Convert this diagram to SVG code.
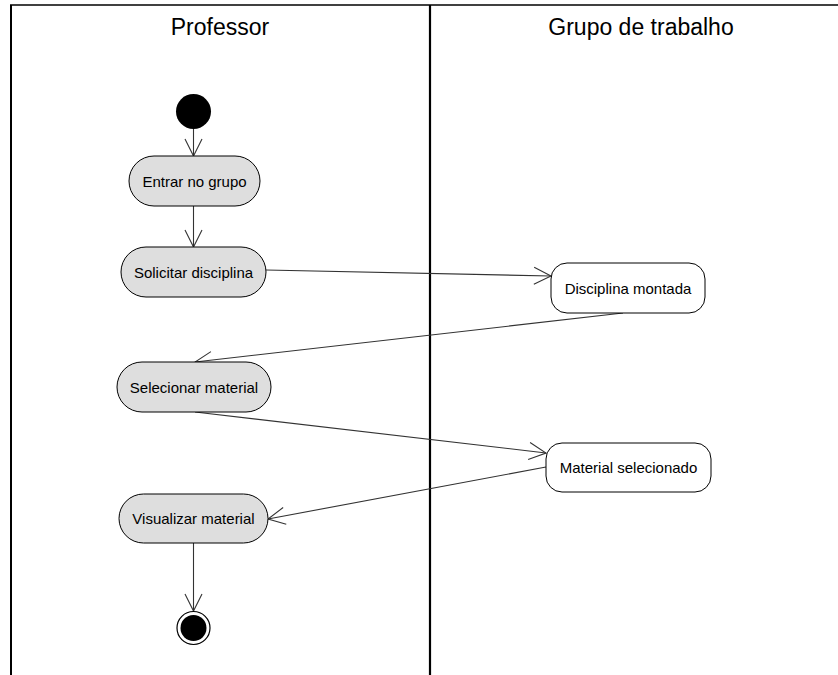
<svg xmlns="http://www.w3.org/2000/svg" width="838" height="675" viewBox="0 0 838 675">
  <style>
    .lane { stroke: #000; fill: none; }
    .title { font-family: "Liberation Sans", Arial, sans-serif; font-size: 23px; fill: #000; text-anchor: middle; }
    .label { font-family: "Liberation Sans", Arial, sans-serif; font-size: 15px; fill: #000; text-anchor: middle; }
    .act { fill: #dedede; stroke: #000; stroke-width: 1; }
    .obj { fill: #fff; stroke: #000; stroke-width: 1; }
    .flow { stroke: #333; stroke-width: 1.1; fill: none; marker-end: url(#open); }
  </style>
  <defs>
    <marker id="open" markerUnits="userSpaceOnUse" markerWidth="24" markerHeight="24" viewBox="-20 -12 24 24" refX="0" refY="0" orient="auto">
      <path d="M -17 -8.5 L 0 0 L -17 8.5" fill="none" stroke="#333" stroke-width="1.1"/>
    </marker>
  </defs>
  <rect width="838" height="675" fill="#fff"/>

  <!-- swimlanes -->
  <g id="lanes">
    <line class="lane" x1="10" y1="5" x2="838" y2="5" stroke-width="1.5"/>
    <line class="lane" x1="11" y1="5" x2="11" y2="675" stroke-width="2"/>
    <line class="lane" x1="430" y1="5" x2="430" y2="675" stroke-width="2.2"/>
    <text class="title" x="220" y="35">Professor</text>
    <text class="title" x="641" y="35">Grupo de trabalho</text>
  </g>

  <!-- connectors -->
  <g id="connectors">
    <line class="flow" x1="193.5" y1="129" x2="193.5" y2="156"/>
    <line class="flow" x1="193.5" y1="206" x2="193.5" y2="247"/>
    <line class="flow" x1="266" y1="270" x2="551" y2="276"/>
    <line class="flow" x1="623" y1="313" x2="195" y2="362"/>
    <line class="flow" x1="195" y1="412" x2="546" y2="453"/>
    <line class="flow" x1="546" y1="467" x2="268" y2="519"/>
    <line class="flow" x1="193.5" y1="543" x2="193.5" y2="611"/>
  </g>

  <g id="start">
    <circle cx="193.5" cy="111.5" r="17.5" fill="#000"/>
  </g>

  <g id="entrar">
    <rect class="act" x="129" y="156" width="131" height="50" rx="25" ry="25"/>
    <text class="label" x="194.5" y="186.5">Entrar no grupo</text>
  </g>

  <g id="solicitar">
    <rect class="act" x="121" y="247" width="145" height="50" rx="25" ry="25"/>
    <text class="label" x="193.5" y="277.5">Solicitar disciplina</text>
  </g>

  <g id="disciplina">
    <rect class="obj" x="551" y="263" width="154" height="50" rx="16" ry="16"/>
    <text class="label" x="628" y="293.5">Disciplina montada</text>
  </g>

  <g id="selecionar">
    <rect class="act" x="117" y="362" width="154" height="50" rx="25" ry="25"/>
    <text class="label" x="194" y="392.5">Selecionar material</text>
  </g>

  <g id="material">
    <rect class="obj" x="546" y="443" width="165" height="49" rx="16" ry="16"/>
    <text class="label" x="628.5" y="472.5">Material selecionado</text>
  </g>

  <g id="visualizar">
    <rect class="act" x="119" y="494" width="149" height="49" rx="24.5" ry="24.5"/>
    <text class="label" x="193.5" y="524">Visualizar material</text>
  </g>

  <g id="end">
    <circle cx="193.5" cy="628" r="16.5" fill="#fff" stroke="#000" stroke-width="1.2"/>
    <circle cx="193.5" cy="628" r="13" fill="#000"/>
  </g>
</svg>
